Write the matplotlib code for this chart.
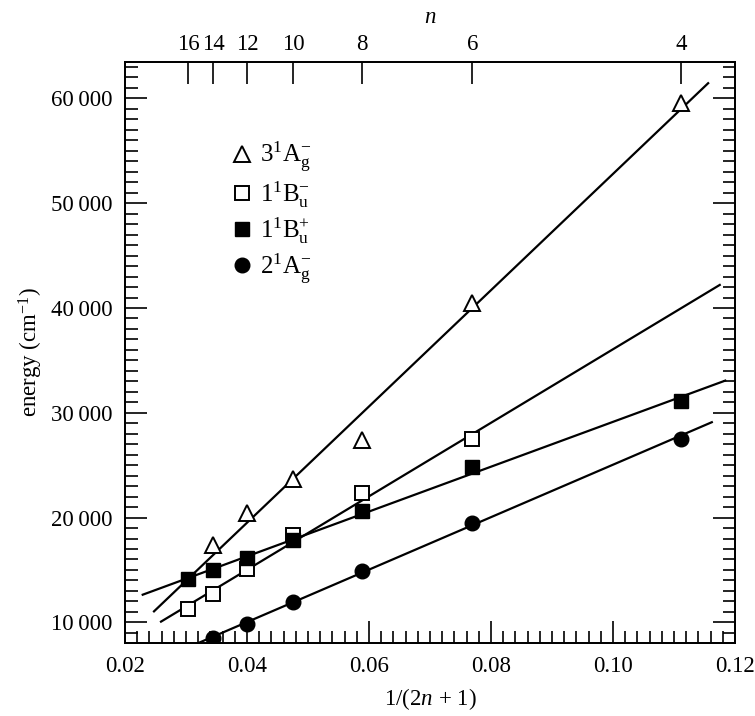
import matplotlib
matplotlib.use("Agg")
import matplotlib.pyplot as plt
from matplotlib.lines import Line2D
from matplotlib.ticker import MultipleLocator, FuncFormatter

plt.rcParams['font.family'] = ['Liberation Serif', 'DejaVu Serif']
plt.rcParams['mathtext.fontset'] = 'custom'
plt.rcParams['mathtext.rm'] = 'Liberation Serif'
plt.rcParams['mathtext.it'] = 'Liberation Serif:italic'

# chain lengths and x = 1/(2n+1)
n_all = [16, 14, 12, 10, 8, 6, 4]

# energies (cm^-1)
n_3ag = [14, 12, 10, 8, 6, 4]
e_3ag = [17400, 20400, 23700, 27450, 40450, 59550]
n_1bum = [16, 14, 12, 10, 8, 6]
e_1bum = [11280, 12740, 15090, 18290, 22340, 27510]
n_1bup = [16, 14, 12, 10, 8, 6, 4]
e_1bup = [14170, 15020, 16140, 17820, 20580, 24780, 31160]
n_2ag = [14, 12, 10, 8, 6, 4]
e_2ag = [8510, 9880, 11940, 14900, 19480, 27510]

# fitted straight lines: (x start, x end), (E start, E end)
fit_3ag = ([0.02475, 0.1156], [11050, 61450])
fit_1bum = ([0.0259, 0.1175], [10070, 42200])
fit_1bup = ([0.0229, 0.1184], [12640, 33070])
fit_2ag = ([0.0315, 0.1162], [7900, 29100])

labels = [r'$3^{1}\mathrm{A}_{\mathrm{g}}^{-}$', r'$1^{1}\mathrm{B}_{\mathrm{u}}^{-}$',
          r'$1^{1}\mathrm{B}_{\mathrm{u}}^{+}$', r'$2^{1}\mathrm{A}_{\mathrm{g}}^{-}$']


def inv(ns):
    return [1.0 / (2 * n + 1) for n in ns]


fs = 16.5

fig = plt.figure(figsize=(7.55, 7.16), dpi=100)
ax = fig.add_axes([0.1656, 0.1015, 0.8079, 0.8123])

lw = 1.6
for fx, fy in [fit_3ag, fit_1bum, fit_1bup, fit_2ag]:
    ax.plot(fx, fy, color='black', lw=lw, zorder=2)

ax.plot(inv(n_3ag), e_3ag, linestyle='none', marker='^', ms=12, mfc='white', mec='black', mew=1.4, zorder=3)
ax.plot(inv(n_1bum), e_1bum, linestyle='none', marker='s', ms=10.5, mfc='white', mec='black', mew=1.4, zorder=3)
ax.plot(inv(n_1bup), e_1bup, linestyle='none', marker='s', ms=10.5, mfc='black', mec='black', mew=1.0, zorder=3)
ax.plot(inv(n_2ag), e_2ag, linestyle='none', marker='o', ms=10.5, mfc='black', mec='black', mew=1.0, zorder=3)

ax.set_xlim(0.02, 0.12)
ax.set_ylim(8000, 63500)

ax.xaxis.set_major_locator(MultipleLocator(0.02))
ax.xaxis.set_minor_locator(MultipleLocator(0.002))
ax.yaxis.set_major_locator(MultipleLocator(10000))
ax.yaxis.set_minor_locator(MultipleLocator(1000))
ax.xaxis.set_major_formatter(FuncFormatter(lambda v, p: '%.2f' % v))
ax.yaxis.set_major_formatter(FuncFormatter(lambda v, p: '{:,}'.format(int(round(v))).replace(',', '\u2009')))

ax.tick_params(which='both', direction='in', top=False, right=True, width=1.2, labelsize=fs)
ax.tick_params(which='major', length=16, pad=9)
ax.tick_params(which='minor', length=9)
for s in ax.spines.values():
    s.set_linewidth(1.3)

ax.set_xlabel(r'1/(2$\mathit{n}$ + 1)', fontsize=fs, labelpad=7)
ax.set_ylabel(r'energy (cm$^{-1}$)', fontsize=fs, labelpad=4)

# top axis in n
ax2 = ax.twiny()
ax2.set_xlim(ax.get_xlim())
ax2.set_xticks(inv(n_all))
ax2.set_xticklabels([str(n) for n in n_all])
ax2.tick_params(direction='in', length=16, width=1.2, labelsize=fs, pad=5)
ax2.set_xlabel(r'$\mathit{n}$', fontsize=fs, labelpad=8)
for s in ax2.spines.values():
    s.set_linewidth(1.3)

handles = [
    Line2D([], [], linestyle='none', marker='^', ms=12, mfc='white', mec='black', mew=1.4),
    Line2D([], [], linestyle='none', marker='s', ms=10.5, mfc='white', mec='black', mew=1.4),
    Line2D([], [], linestyle='none', marker='s', ms=10.5, mfc='black', mec='black'),
    Line2D([], [], linestyle='none', marker='o', ms=10.5, mfc='black', mec='black'),
]
ax.legend(handles, labels, loc='upper left', bbox_to_anchor=(0.138, 0.905), frameon=False,
          fontsize=18, handlelength=0.8, handletextpad=0.35, labelspacing=0.22)

fig.savefig('out.png', dpi=100)
